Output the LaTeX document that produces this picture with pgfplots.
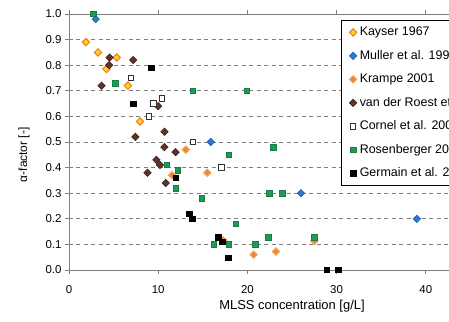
\documentclass[border=0pt]{standalone}
\usepackage{pgfplots}
\pgfplotsset{compat=1.18}
\usepackage{fontspec}
\setmainfont{Liberation Sans}
\definecolor{kayfill}{HTML}{FFD21F}
\definecolor{kaydraw}{HTML}{EE7A1C}
\definecolor{mulfill}{HTML}{2B7BCB}
\definecolor{muldraw}{HTML}{1F5FA8}
\definecolor{krafill}{HTML}{F0862A}
\definecolor{kradraw}{HTML}{F6A45A}
\definecolor{vdrfill}{HTML}{5E3526}
\definecolor{vdrdraw}{HTML}{3C2018}
\definecolor{cordraw}{HTML}{333333}
\definecolor{rosfill}{HTML}{1E9A56}
\definecolor{rosdraw}{HTML}{148044}
\definecolor{axgray}{HTML}{7F7F7F}
\begin{document}
\begin{tikzpicture}
\begin{axis}[
  scale only axis, width=446bp, height=256bp,
  xmin=0, xmax=50, ymin=0, ymax=1,
  xtick={0,10,20,30,40},
  ytick={0,0.1,0.2,0.3,0.4,0.5,0.6,0.7,0.8,0.9,1.0},
  /pgf/number format/assume math mode=true,
  yticklabel style={/pgf/number format/.cd, fixed, fixed zerofill, precision=1},
  tick label style={font=\fontsize{11.5}{13}\selectfont, text=black},
  xticklabel style={yshift=-8bp},
  axis line style={axgray, line width=0.8bp},
  tick align=outside, major tick length=4bp,
  tick style={axgray, line width=0.8bp},
  ymajorgrids,
  major grid style={axgray, dash pattern=on 4bp off 3.5bp, line width=0.7bp},
  xlabel={MLSS concentration [g/L]},
  ylabel={α-factor [-]},
  label style={font=\fontsize{13}{15}\selectfont},
  ylabel style={font=\fontsize{12}{14}\selectfont, at={(ticklabel cs:0.45,9bp)}, anchor=south},
  clip=false,
  legend cell align=left,
  legend image code/.code={\draw[mark repeat=2,mark phase=2,#1] plot coordinates {(0bp,0bp) (4bp,0bp) (8bp,0bp)};},
  legend style={at={(0.609,0.977)}, anchor=north west, draw=black, line width=0.6bp,
    fill=white, font=\fontsize{12.5}{15}\selectfont, row sep=12bp,
    inner xsep=8.5bp, inner ysep=6.5bp,
    nodes={inner xsep=3bp, inner ysep=0bp, text height=9bp, text depth=2.5bp}},
]
\addplot[only marks, mark=square*, mark size=2.6bp, mark options={rotate=45, fill=kayfill, draw=kaydraw, line width=1bp}] coordinates {
(1.9,0.89) (3.25,0.85) (4.2,0.785) (5.35,0.83) (6.6,0.72) (7.95,0.58)};
\addlegendentry{Kayser 1967}
\addplot[only marks, mark=square*, mark size=2.6bp, mark options={rotate=45, fill=mulfill, draw=muldraw, line width=0.6bp}] coordinates {
(3.0,0.98) (15.9,0.50) (26.0,0.30) (39.0,0.20)};
\addlegendentry{Muller et al. 1999}
\addplot[only marks, mark=square*, mark size=2.6bp, mark options={rotate=45, fill=krafill, draw=kradraw, line width=1bp}] coordinates {
(13.1,0.47) (11.55,0.37) (15.5,0.38) (17.3,0.115) (20.7,0.06) (23.2,0.072) (27.5,0.113)};
\addlegendentry{Krampe 2001}
\addplot[only marks, mark=square*, mark size=2.6bp, mark options={rotate=45, fill=vdrfill, draw=vdrdraw, line width=0.6bp}] coordinates {
(4.55,0.83) (4.5,0.80) (7.2,0.82) (3.65,0.72) (10.0,0.64) (7.45,0.52) (10.7,0.54) (10.7,0.48) (11.95,0.46) (9.8,0.43) (10.2,0.41) (8.8,0.38) (10.85,0.34)};
\addlegendentry{van der Roest et al. 2002}
\addplot[only marks, mark=square*, mark size=2.7bp, mark options={fill=white, draw=cordraw, line width=0.9bp}] coordinates {
(6.95,0.75) (9.45,0.65) (10.45,0.67) (8.95,0.60) (13.9,0.50) (17.1,0.40)};
\addlegendentry{Cornel et al. 2003}
\addplot[only marks, mark=square*, mark size=2.7bp, mark options={fill=rosfill, draw=rosdraw, line width=0.5bp}] coordinates {
(2.7,1.0) (5.2,0.73) (13.9,0.70) (19.9,0.70) (17.9,0.45) (22.9,0.48) (10.95,0.41) (12.2,0.39) (11.95,0.32) (14.85,0.28) (18.7,0.18) (16.2,0.10) (17.9,0.10) (20.9,0.10) (22.35,0.128) (22.45,0.30) (23.9,0.30) (27.5,0.128)};
\addlegendentry{Rosenberger 2003}
\addplot[only marks, mark=square*, mark size=2.7bp, mark options={fill=black, draw=black, line width=0.5bp}] coordinates {
(9.2,0.79) (7.2,0.65) (11.95,0.36) (13.5,0.22) (13.8,0.20) (16.75,0.128) (17.2,0.11) (17.85,0.048) (28.9,0.0) (30.2,0.0)};
\addlegendentry{Germain et al. 2007}
\end{axis}
\pgfresetboundingbox
\path[use as bounding box] ([shift={(-69bp,-52bp)}]current axis.south west) rectangle ([shift={(380bp,270bp)}]current axis.south west);
\end{tikzpicture}
\end{document}
